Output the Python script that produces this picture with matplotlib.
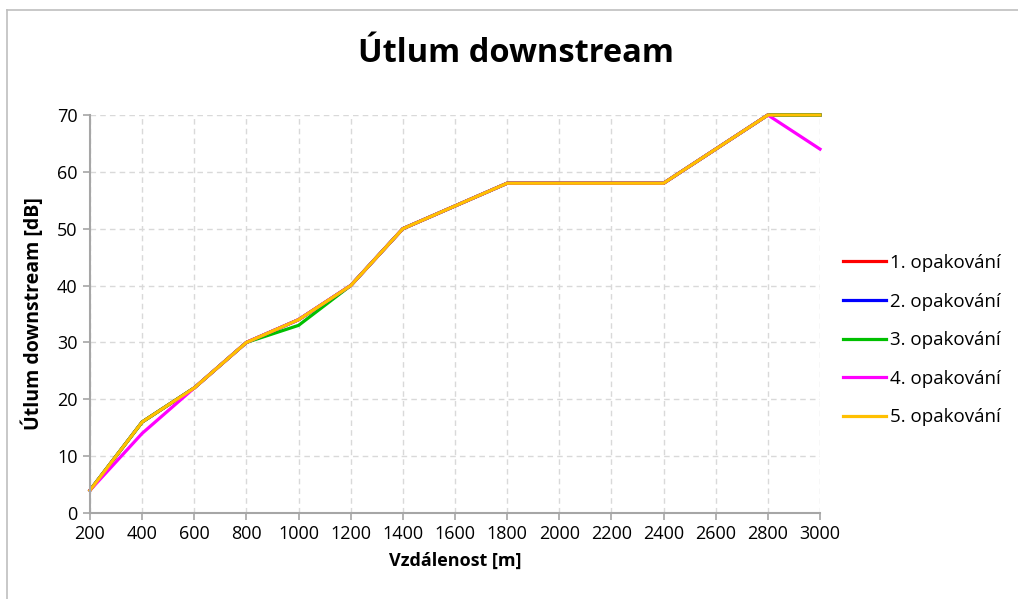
import matplotlib
matplotlib.use("Agg")
import matplotlib.pyplot as plt
from matplotlib.lines import Line2D

plt.rcParams['font.family'] = ['Open Sans', 'DejaVu Sans']

distance = [200, 400, 600, 800, 1000, 1200, 1400, 1600, 1800, 2000, 2200, 2400, 2600, 2800, 3000]
rep1 = [4, 16, 22, 30, 34, 40, 50, 54, 58, 58, 58, 58, 64, 70, 70]
rep2 = [4, 16, 22, 30, 34, 40, 50, 54, 58, 58, 58, 58, 64, 70, 70]
rep3 = [4, 16, 22, 30, 33, 40, 50, 54, 58, 58, 58, 58, 64, 70, 70]
rep4 = [4, 14, 22, 30, 34, 40, 50, 54, 58, 58, 58, 58, 64, 70, 64]
rep5 = [4, 16, 22, 30, 34, 40, 50, 54, 58, 58, 58, 58, 64, 70, 70]
labels = ["1. opakování", "2. opakování", "3. opakování", "4. opakování", "5. opakování"]
colors = ["#FF0000", "#0000FF", "#00C000", "#FF00FF", "#FFC000"]

fig = plt.figure(figsize=(10.18, 5.99), dpi=100)
ax = fig.add_axes([0.0884, 0.1436, 0.8055 - 0.0884, 0.808 - 0.1436])

for ys, lab, c in zip([rep1, rep2, rep3, rep4, rep5], labels, colors):
    ax.plot(distance, ys, color=c, lw=2.3, label=lab, clip_on=False)

ax.set_xlim(200, 3000)
ax.set_ylim(0, 70)
ax.set_xticks(distance)
ax.set_yticks(range(0, 71, 10))
ax.grid(True, color='#D9D9D9', linestyle=(0, (4, 3)), lw=1)
ax.set_axisbelow(True)
for s in ['top', 'right']:
    ax.spines[s].set_visible(False)
for s in ['left', 'bottom']:
    ax.spines[s].set_color('#A6A6A6')
    ax.spines[s].set_linewidth(1.5)
ax.tick_params(axis='both', colors='#A6A6A6', length=5, width=1.2, labelsize=13, labelcolor='black', pad=4)

ax.set_xlabel("Vzdálenost [m]", fontsize=13, fontweight='bold', labelpad=6)
ax.set_ylabel("Útlum downstream [dB]", fontsize=14, fontweight='bold', labelpad=9)
fig.text(0.507, 0.911, "Útlum downstream", ha='center', va='center', fontsize=23.5, fontweight='bold')

fig.legend(*ax.get_legend_handles_labels(), loc='center left', bbox_to_anchor=(0.828, 0.432),
           bbox_transform=fig.transFigure, frameon=False, fontsize=13.5,
           borderpad=0, borderaxespad=0,
           handlelength=2.3, handletextpad=0.2, labelspacing=1.1)

fig.add_artist(Line2D([0.0065, 1.0], [1 - 10 / 599, 1 - 10 / 599], transform=fig.transFigure,
                      color='#BFBFBF', lw=1.2))
fig.add_artist(Line2D([0.0065, 0.0065], [0.0, 1 - 10 / 599], transform=fig.transFigure,
                      color='#BFBFBF', lw=1.2))

fig.savefig("out.png", dpi=100)
